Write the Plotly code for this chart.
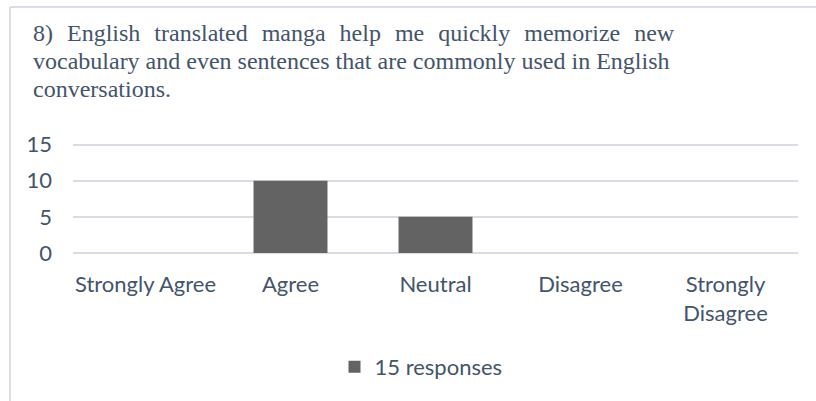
import plotly.graph_objects as go

categories = ["Strongly Agree", "Agree", "Neutral", "Disagree", "Strongly<br>Disagree"]
responses = [0, 10, 5, 0, 0]
series_name = "15 responses"
GAP = "\u00a0\u00a0\u200a"
title_words_1 = ["8)", "English", "translated", "manga", "help", "me", "quickly", "memorize", "new"]
title_lines = [
    GAP.join(title_words_1),
    "vocabulary and even sentences that are commonly used in English",
    "conversations.",
]
y_ticks = [0, 5, 10, 15]

TEXT = "#44546A"
GRID = "#D9DDE3"
SANS = "Lato, Carlito, Calibri, sans-serif"
SERIF = "Liberation Serif, Times New Roman, serif"

L, R, T, B = 73, 18, 141, 148
W, H = 816, 401
pw, ph = W - L - R, H - T - B

def px_x(x):
    return (x - L) / pw

def px_y(y):
    return (H - B - y) / ph

fig = go.Figure()
fig.add_trace(go.Bar(
    x=categories, y=responses, name=series_name,
    marker=dict(color="#636363", line=dict(width=0)),
    showlegend=True,
))

fig.update_layout(
    width=W, height=H,
    margin=dict(l=L, r=R, t=T, b=B, pad=0),
    paper_bgcolor="white", plot_bgcolor="white",
    bargap=0.49,
    font=dict(family=SANS, size=22, color=TEXT),
    showlegend=True,
    legend=dict(
        orientation="h", x=px_x(421), y=px_y(367), xanchor="center", yanchor="middle",
        font=dict(family=SANS, size=22, color=TEXT), itemwidth=30,
    ),
    xaxis=dict(
        showgrid=False, zeroline=False, showline=False, ticks="",
        tickfont=dict(family=SANS, size=22, color=TEXT),
        ticklabelstandoff=16, fixedrange=True,
    ),
    yaxis=dict(
        range=[0, 15.5], tickvals=y_ticks, showgrid=True, gridcolor=GRID, gridwidth=1.5,
        zeroline=True, zerolinecolor=GRID, zerolinewidth=1.5, showline=False, ticks="",
        tickfont=dict(family=SANS, size=22, color=TEXT),
        ticklabelstandoff=20, fixedrange=True,
    ),
)

# chart frame
fig.add_shape(type="line", xref="paper", yref="paper",
              x0=px_x(10), x1=px_x(10), y0=px_y(7), y1=px_y(420),
              line=dict(color="#D9DEE6", width=2))
fig.add_shape(type="line", xref="paper", yref="paper",
              x0=px_x(10), x1=px_x(830), y0=px_y(7), y1=px_y(7),
              line=dict(color="#D9DEE6", width=2))

baselines = [42, 70, 98]
for line, base in zip(title_lines, baselines):
    fig.add_annotation(
        text=line, xref="paper", yref="paper", x=px_x(31), y=px_y(base + 6),
        xanchor="left", yanchor="bottom", showarrow=False, align="left",
        font=dict(family=SERIF, size=24, color=TEXT),
    )

fig.write_html("out.html", config={"displayModeBar": False},
               post_script="document.body.style.margin='0px';")
